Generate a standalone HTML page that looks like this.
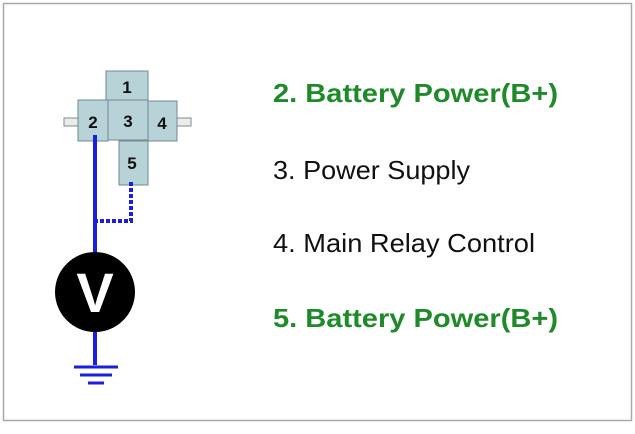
<!DOCTYPE html>
<html><head><style>html,body{margin:0;padding:0;background:#fff}</style></head><body>
<svg width="635" height="429" viewBox="0 0 635 429" xmlns="http://www.w3.org/2000/svg" font-family="Liberation Sans, Arial, sans-serif">
<rect x="3.5" y="3.5" width="628" height="417" fill="#fff" stroke="#aaa" stroke-width="1.5"/>
<rect x="64" y="118" width="15" height="8" fill="#e8eeee" stroke="#888"/>
<rect x="177" y="118" width="14" height="8" fill="#e8eeee" stroke="#888"/>
<g fill="#b7d3d8" stroke="#6f8a90" stroke-width="1">
<rect x="106" y="71" width="42" height="30"/>
<rect x="78" y="100" width="30" height="41"/>
<rect x="108" y="100" width="40" height="40"/>
<rect x="148" y="101" width="29" height="40"/>
<rect x="119" y="141" width="29" height="44"/>
</g>
<g font-weight="bold" font-size="17" fill="#111" text-anchor="middle">
<text x="127" y="93">1</text><text x="93" y="128">2</text><text x="128" y="127">3</text><text x="162" y="129">4</text><text x="132" y="169">5</text>
</g>
<line x1="95" y1="135" x2="95" y2="365" stroke="#1a1ee0" stroke-width="4"/>
<path d="M131 182 V221 H95" fill="none" stroke="#1a1ee0" stroke-width="4" stroke-dasharray="4,2"/>
<circle cx="95" cy="292" r="40" fill="#000"/>
<text x="95" y="312" font-size="56" font-weight="bold" fill="#fff" text-anchor="middle">V</text>
<g stroke="#1a1ee0" stroke-width="3">
<line x1="74" y1="367" x2="118" y2="367"/><line x1="80" y1="375" x2="112" y2="375"/><line x1="88" y1="383" x2="104" y2="383"/>
</g>
<text x="273" y="102" font-size="26" font-weight="bold" fill="#1f8a2a" textLength="285" lengthAdjust="spacingAndGlyphs">2. Battery Power(B+)</text>
<text x="273" y="179" font-size="26" fill="#111" textLength="197" lengthAdjust="spacingAndGlyphs">3. Power Supply</text>
<text x="273" y="252" font-size="26" fill="#111" textLength="262" lengthAdjust="spacingAndGlyphs">4. Main Relay Control</text>
<text x="273" y="327" font-size="26" font-weight="bold" fill="#1f8a2a" textLength="285" lengthAdjust="spacingAndGlyphs">5. Battery Power(B+)</text>
</svg>
</body></html>
